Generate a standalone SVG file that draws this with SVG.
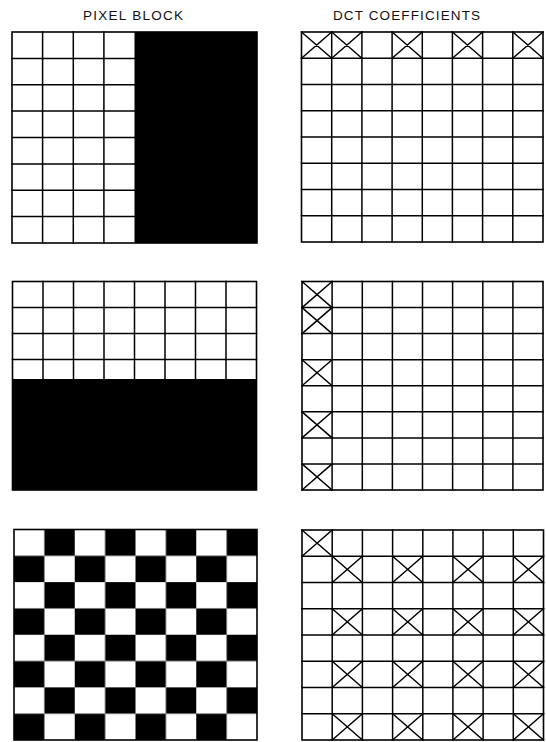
<svg xmlns="http://www.w3.org/2000/svg" width="546" height="742" viewBox="0 0 546 742">
<style>
.ln{fill:none;stroke:#000;stroke-width:1.5;stroke-linecap:square}
.bd{fill:none;stroke:#000;stroke-width:1.6}
.bk{fill:#000}
.lbl{font-family:"Liberation Sans",Arial,sans-serif;font-size:13.5px;fill:#111}
</style>
<defs>
<pattern id="checker" patternUnits="userSpaceOnUse" x="14" y="529.5" width="60.75" height="52.625">
<rect x="30.375" y="0" width="30.375" height="26.3125" fill="#000"/>
<rect x="0" y="26.3125" width="30.375" height="26.3125" fill="#000"/>
</pattern>
</defs>
<rect width="546" height="742" fill="#fff"/>
<g id="labels">
<text class="lbl" x="83" y="19.5" textLength="100" lengthAdjust="spacing">PIXEL BLOCK</text>
<text class="lbl" x="333" y="19.5" textLength="147" lengthAdjust="spacing">DCT COEFFICIENTS</text>
</g>
<g id="pixel-vertical">
<rect class="bk" x="134.5" y="32" width="122.5" height="211"/>
<path class="ln" d="M12 58.4H134.5M12 84.8H134.5M12 111.1H134.5M12 137.5H134.5M12 163.9H134.5M12 190.3H134.5M12 216.6H134.5M42.6 32V243M73.3 32V243M103.9 32V243"/>
<rect class="bd" x="12" y="32" width="245" height="211"/>
</g>
<g id="dct-vertical">
<path class="ln" d="M301.5 58.25H543M301.5 84.5H543M301.5 110.75H543M301.5 137H543M301.5 163.25H543M301.5 189.5H543M301.5 215.75H543M331.7 32V242M361.9 32V242M392.1 32V242M422.3 32V242M452.4 32V242M482.6 32V242M512.8 32V242"/>
<path class="ln" d="M301.5 32L331.7 58.25M331.7 32L301.5 58.25M331.7 32L361.9 58.25M361.9 32L331.7 58.25M392.1 32L422.3 58.25M422.3 32L392.1 58.25M452.4 32L482.6 58.25M482.6 32L452.4 58.25M512.8 32L543 58.25M543 32L512.8 58.25"/>
<rect class="bd" x="301.5" y="32" width="241.5" height="210"/>
</g>
<g id="pixel-horizontal">
<rect class="bk" x="12.5" y="379" width="244" height="111"/>
<path class="ln" d="M12.5 307.5H256.5M12.5 333.5H256.5M12.5 359.5H256.5M43 281.5V379M73.5 281.5V379M104 281.5V379M134.5 281.5V379M165 281.5V379M195.5 281.5V379M226 281.5V379"/>
<rect class="bd" x="12.5" y="281.5" width="244" height="208.5"/>
</g>
<g id="dct-horizontal">
<path class="ln" d="M302 307.6H543M302 333.6H543M302 359.7H543M302 385.8H543M302 411.8H543M302 437.9H543M302 463.9H543M332.1 281.5V490M362.3 281.5V490M392.4 281.5V490M422.5 281.5V490M452.6 281.5V490M482.8 281.5V490M512.9 281.5V490"/>
<path class="ln" d="M302 281.5L332.1 307.6M332.1 281.5L302 307.6M302 307.6L332.1 333.6M332.1 307.6L302 333.6M302 359.7L332.1 385.8M332.1 359.7L302 385.8M302 411.8L332.1 437.9M332.1 411.8L302 437.9M302 463.9L332.1 490M332.1 463.9L302 490"/>
<rect class="bd" x="302" y="281.5" width="241" height="208.5"/>
</g>
<g id="pixel-checker">
<rect x="14" y="529.5" width="243" height="210.5" fill="url(#checker)"/>
<rect class="bd" x="14" y="529.5" width="243" height="210.5"/>
</g>
<g id="dct-checker">
<path class="ln" d="M302 556.25H543.5M302 582.5H543.5M302 608.75H543.5M302 635H543.5M302 661.25H543.5M302 687.5H543.5M302 713.75H543.5M332.2 530V740M362.4 530V740M392.6 530V740M422.8 530V740M452.9 530V740M483.1 530V740M513.3 530V740"/>
<path class="ln" d="M302 530L332.2 556.25M332.2 530L302 556.25
M332.2 556.25L362.4 582.5M362.4 556.25L332.2 582.5M392.6 556.25L422.8 582.5M422.8 556.25L392.6 582.5M452.9 556.25L483.1 582.5M483.1 556.25L452.9 582.5M513.3 556.25L543.5 582.5M543.5 556.25L513.3 582.5
M332.2 608.75L362.4 635M362.4 608.75L332.2 635M392.6 608.75L422.8 635M422.8 608.75L392.6 635M452.9 608.75L483.1 635M483.1 608.75L452.9 635M513.3 608.75L543.5 635M543.5 608.75L513.3 635
M332.2 661.25L362.4 687.5M362.4 661.25L332.2 687.5M392.6 661.25L422.8 687.5M422.8 661.25L392.6 687.5M452.9 661.25L483.1 687.5M483.1 661.25L452.9 687.5M513.3 661.25L543.5 687.5M543.5 661.25L513.3 687.5
M332.2 713.75L362.4 740M362.4 713.75L332.2 740M392.6 713.75L422.8 740M422.8 713.75L392.6 740M452.9 713.75L483.1 740M483.1 713.75L452.9 740M513.3 713.75L543.5 740M543.5 713.75L513.3 740"/>
<rect class="bd" x="302" y="530" width="241.5" height="210"/>
</g>
</svg>
